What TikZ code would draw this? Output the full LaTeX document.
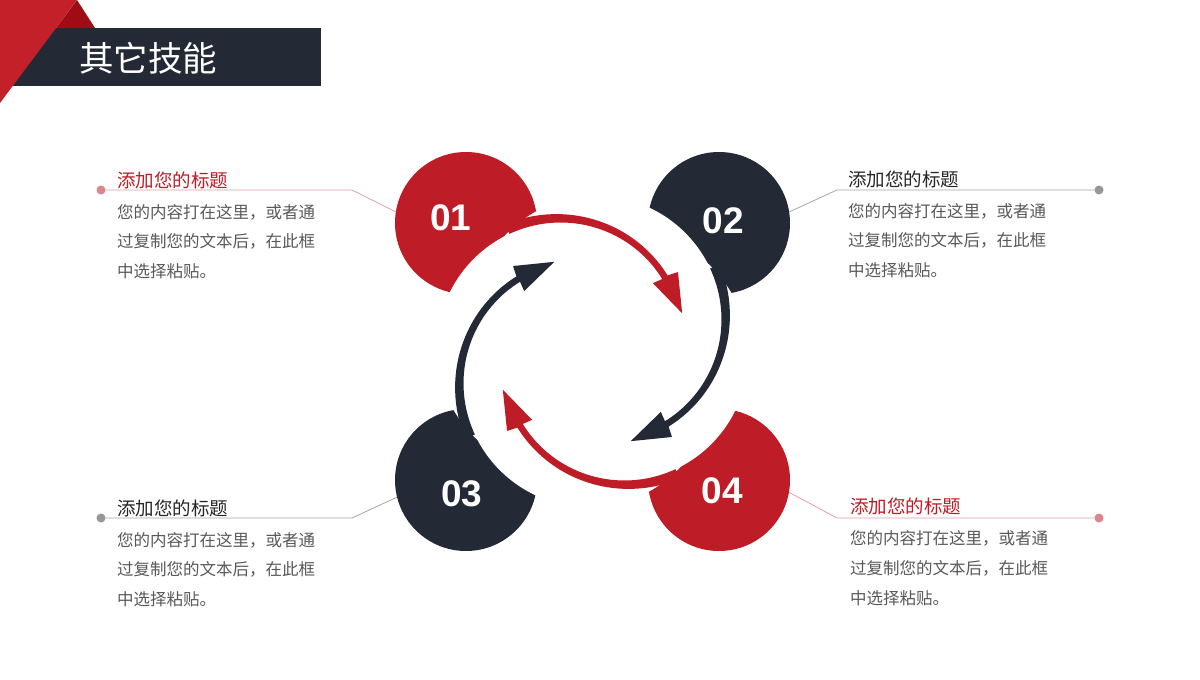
\documentclass[tikz,border=0pt]{standalone}
\usepackage{fontspec}
\newfontfamily\cjk{Noto Sans CJK SC}
\newfontfamily\numfont{Liberation Sans}
\definecolor{myred}{RGB}{190,28,38}
\definecolor{mydark}{RGB}{35,42,54}
\definecolor{hdrred}{RGB}{196,32,42}
\definecolor{hdrdark}{RGB}{160,12,20}
\definecolor{pinkline}{RGB}{226,160,165}
\definecolor{pinkdot}{RGB}{222,132,140}
\definecolor{grayline}{RGB}{165,165,168}
\definecolor{graydot}{RGB}{150,150,156}
\definecolor{bodygray}{RGB}{89,89,89}
\definecolor{titledark}{RGB}{38,38,38}
\tikzset{
  bigdisc/.style={circle, minimum size=142pt, inner sep=0pt},
  numtext/.style={text=white, font=\numfont\bfseries\fontsize{37}{40}\selectfont, inner sep=0pt},
  enddot/.style={circle, minimum size=9pt, inner sep=0pt},
  ttl/.style={anchor=west, inner sep=0pt, font=\cjk\fontsize{18.5}{22}\selectfont},
  body/.style={anchor=west, inner sep=0pt, text=bodygray, font=\cjk\fontsize{16.5}{20}\selectfont},
  leader/.style={line width=0.8pt}
}
% one cut disc, in the frame of circle 01
\newcommand{\cutdisc}{\fill[white] (562.5,347.6) circle[radius=125.5pt];}
% one circular arrow, in the frame of circle 01
\newcommand{\cyclearrow}[1]{%
  \begin{scope}[shift={(562.5,347.6)}]
    \fill[#1] plot[domain=-115:-34.5, samples=60] (\x:{136-8.5*(\x+115)/80.5})
      -- (-33.2:138) -- (-16:124.5) -- (-35.5:111) -- (-34.5:121)
      -- plot[domain=-34.5:-115, samples=60] (\x:{125.5-4.5*((\x+115)/80.5)^2}) -- cycle;
  \end{scope}}
\begin{document}
\begin{tikzpicture}[x=1pt,y=-1pt]
\useasboundingbox (0,0) rectangle (1200,680);
\fill[white] (0,0) rectangle (1200,680);

% header
\fill[mydark] (0,28) rectangle (321,86);
\fill[hdrdark] (77,0) -- (95,28) -- (56,28) -- cycle;
\fill[hdrred] (0,0) -- (77,0) -- (0,103) -- cycle;
\node[anchor=west, inner sep=0pt, text=white, font=\cjk\fontsize{34.5}{38}\selectfont] (hdr) at (79,58) {其它技能};

% leaders
\node[enddot, fill=pinkdot] (d1) at (101,190) {};
\node[enddot, fill=graydot] (d2) at (1099,190) {};
\node[enddot, fill=graydot] (d3) at (101,518) {};
\node[enddot, fill=pinkdot] (d4) at (1099,518) {};
\coordinate (k1) at (352,190);
\coordinate (k2) at (837,190);
\coordinate (k3) at (352,518);
\coordinate (k4) at (837,518);

% big circles
\node[bigdisc, fill=myred]  (c1) at (466,223) {};
\node[bigdisc, fill=mydark] (c2) at (719,223) {};
\node[bigdisc, fill=mydark] (c3) at (466,480) {};
\node[bigdisc, fill=myred]  (c4) at (719,480) {};

\draw[leader, pinkline] (d1) -- (k1) -- (c1.171);
\draw[leader, grayline] (d2) -- (k2) -- (c2.9);
\draw[leader, grayline] (d3) -- (k3) -- (c3.194);
\draw[leader, pinkline] (d4) -- (k4) -- (c4.350);

% white cuts
\cutdisc
\begin{scope}[rotate around={-90:(592.5,351.5)}]\cutdisc\end{scope}
\begin{scope}[rotate around={180:(592.5,351.5)}]\cutdisc\end{scope}
\begin{scope}[rotate around={90:(592.5,351.5)}]\cutdisc\end{scope}

% arrows
\cyclearrow{myred}
\begin{scope}[rotate around={-90:(592.5,351.5)}]\cyclearrow{mydark}\end{scope}
\begin{scope}[rotate around={180:(592.5,351.5)}]\cyclearrow{myred}\end{scope}
\begin{scope}[rotate around={90:(592.5,351.5)}]\cyclearrow{mydark}\end{scope}

% numbers
\node[numtext] (n1) at (451,218) {01};
\node[numtext] (n2) at (723,220.5) {02};
\node[numtext] (n3) at (462,494) {03};
\node[numtext] (n4) at (722,490.5) {04};

% texts top-left
\node[ttl, text=myred] (t1) at (117,180.5) {添加您的标题};
\node[body] (b1a) at (117,212) {您的内容打在这里，或者通};
\node[body] (b1b) at (117,241.5) {过复制您的文本后，在此框};
\node[body] (b1c) at (117,271) {中选择粘贴。};
% top-right
\node[ttl, text=titledark] (t2) at (848,179) {添加您的标题};
\node[body] (b2a) at (848,211) {您的内容打在这里，或者通};
\node[body] (b2b) at (848,240.5) {过复制您的文本后，在此框};
\node[body] (b2c) at (848,270) {中选择粘贴。};
% bottom-left
\node[ttl, text=titledark] (t3) at (117,508) {添加您的标题};
\node[body] (b3a) at (117,540) {您的内容打在这里，或者通};
\node[body] (b3b) at (117,569.5) {过复制您的文本后，在此框};
\node[body] (b3c) at (117,599) {中选择粘贴。};
% bottom-right
\node[ttl, text=myred] (t4) at (850,506) {添加您的标题};
\node[body] (b4a) at (850,538) {您的内容打在这里，或者通};
\node[body] (b4b) at (850,568) {过复制您的文本后，在此框};
\node[body] (b4c) at (850,598) {中选择粘贴。};
\end{tikzpicture}
\end{document}
